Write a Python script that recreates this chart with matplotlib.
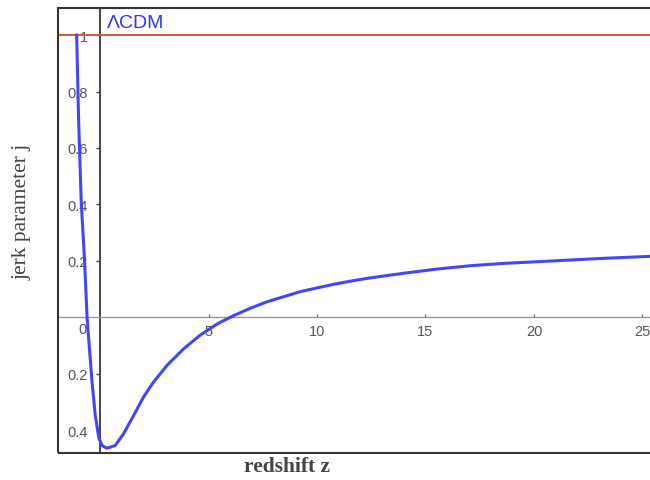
import matplotlib.pyplot as plt
from matplotlib.patches import Rectangle

# jerk parameter
z_vals = [-1.08, -0.99, -0.87, -0.72, -0.60, -0.49, -0.37, -0.22, -0.05, 0.1,
          0.31, 0.69, 1.08, 1.54, 2.0, 2.46, 3.08, 3.85, 4.62, 5.39, 6.16,
          6.93, 7.70, 8.47, 9.24, 10.0, 10.78, 11.55, 12.32, 14.0, 15.55,
          17.1, 18.63, 20.2, 21.7, 23.25, 24.8, 25.4]
j_vals = [1.0, 0.70, 0.41, 0.207, 0.0, -0.112, -0.23, -0.349, -0.43, -0.455,
          -0.464, -0.455, -0.413, -0.349, -0.283, -0.230, -0.171, -0.112,
          -0.063, -0.024, 0.006, 0.032, 0.055, 0.073, 0.091, 0.104, 0.117,
          0.128, 0.138, 0.156, 0.171, 0.183, 0.191, 0.197, 0.203, 0.209,
          0.214, 0.216]

lcdm_j = 1.0
x_ticks = [5, 10, 15, 20, 25]
y_ticks = [1, 0.8, 0.6, 0.4, 0.2, -0.2, -0.4]
y_tick_labels = ["1", "0.8", "0.6", "0.4", "0.2", "0.2", "0.4"]

fig = plt.figure(figsize=(6.5, 4.81), dpi=100)
ax = fig.add_axes([58 / 650, 27 / 481, 592 / 650, 445 / 481])
ax.set_xlim(-1.94, 25.35)
ax.set_ylim(-0.481, 1.096)

# frame
for s in ["top", "right"]:
    ax.spines[s].set_visible(False)
ax.add_patch(Rectangle((0, 0), 1.2, 1, transform=ax.transAxes, fill=False,
                       edgecolor="#333333", lw=1.5, clip_on=False, zorder=5))

# axes through origin
ax.spines["left"].set_position(("data", 0))
ax.spines["left"].set_color("#444444")
ax.spines["left"].set_linewidth(1.4)
ax.spines["bottom"].set_position(("data", 0))
ax.spines["bottom"].set_color("#999999")
ax.spines["bottom"].set_linewidth(1.0)

ax.set_yticks(y_ticks)
ax.set_yticklabels(y_tick_labels)
ax.set_xticks(x_ticks)
ax.tick_params(axis="y", length=3, width=1, color="#444444", pad=6,
               labelsize=10.5, labelcolor="#555555")
ax.tick_params(axis="x", direction="in", length=2, width=1, color="#777777",
               pad=5, labelsize=10.5, labelcolor="#555555")
for t in ax.get_xticklabels() + ax.get_yticklabels():
    t.set_family("Liberation Sans")
ax.text(-0.8, -0.015, "0", ha="center", va="top", fontsize=10.5,
        color="#555555", family="Liberation Sans")

ax.axhline(lcdm_j, color="#c8643c", lw=1.5, zorder=3)
ax.plot(z_vals, j_vals, color="#4444f8", lw=2.2, zorder=4,
        solid_joinstyle="round")

ax.text(0.3, 1.045, "ΛCDM", color="#3333ee", fontsize=14,
        family="Liberation Sans", ha="left", va="center")

fig.text(22 / 650, 1 - 212 / 481, "jerk parameter j", rotation=90,
         ha="center", va="center", fontsize=15.5, color="#444444",
         family="Liberation Serif")
fig.text(287 / 650, 1 - 467 / 481, "redshift z", ha="center", va="center",
         fontsize=15.5, color="#444444", family="Liberation Serif",
         fontweight="bold")

fig.savefig("out.png", dpi=100)
